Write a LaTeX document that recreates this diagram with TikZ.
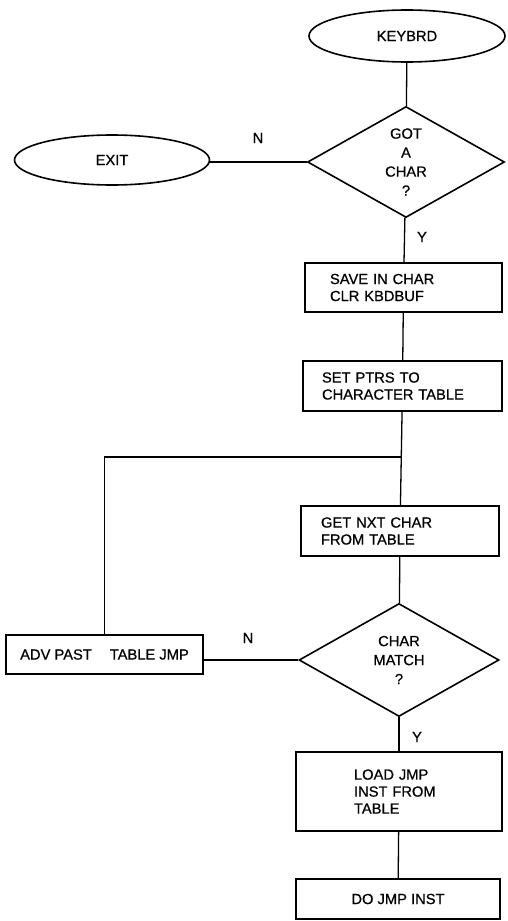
\documentclass[tikz,border=0pt]{standalone}
\usepackage{fontspec}
\newfontfamily\flowfont[FakeBold=0.7]{Liberation Sans}
\usetikzlibrary{shapes.geometric,calc}
\newcommand{\flowtxt}{\flowfont\fontsize{14.7}{17}\selectfont}
\newcommand{\testtxt}{\flowfont\fontsize{14.7}{19}\selectfont}
\tikzset{
  term/.style={ellipse,draw=black,line width=1.6pt,minimum width=196pt,minimum height=52pt,inner sep=0pt,font=\flowtxt},
  test/.style={diamond,aspect=1.8,draw=black,line width=1.6pt,minimum width=197pt,minimum height=111pt,inner sep=0pt,align=center,font=\testtxt},
  proc/.style={rectangle,draw=black,line width=1.6pt,inner ysep=0pt,align=left,font=\flowtxt},
  wire/.style={draw=black,line width=1.3pt},
  tag/.style={font=\flowtxt}
}

\begin{document}
\begin{tikzpicture}[x=1pt,y=-1pt]
\useasboundingbox (0,0) rectangle (507,921);
% main column
\node[term] (keybrd) at (407,36) {KEYBRD};
\node[test] (gotch) at (406,162) {GOT\\A\\CHAR\\?};
\node[term,minimum width=195pt,minimum height=50pt] (exit) at (112,160) {EXIT};
\node[proc,minimum width=197pt,minimum height=49pt,inner xsep=25pt,text width=147pt] (save) at (403.5,287.5) {SAVE IN CHAR\\CLR KBDBUF};
\node[proc,minimum width=199pt,minimum height=50pt,inner xsep=19pt,text width=161pt] (setp) at (402.5,386) {SET PTRS TO\\CHARACTER TABLE};
\node[proc,minimum width=198pt,minimum height=50pt,inner xsep=20pt,text width=158pt] (getn) at (400,531) {GET NXT CHAR\\FROM TABLE};
\node[test,minimum width=200pt,minimum height=113pt] (match) at (399,660) {CHAR\\MATCH\\?};
\node[proc,align=center,minimum width=197pt,minimum height=39pt] (adv) at (104.5,654.5) {ADV PAST\hspace{18pt}TABLE JMP};
\node[proc,minimum width=206pt,minimum height=79pt,inner xsep=58pt,text width=90pt] (load) at (399,791.5) {LOAD JMP\\INST FROM\\TABLE};
\node[proc,align=center,minimum width=204pt,minimum height=40pt] (dojmp) at (398,899) {DO JMP INST};
\coordinate (loop) at (401,457);

% connectors
\draw[wire] (keybrd) -- (gotch);
\draw[wire] (gotch.west) -- (gotch.west -| exit.east);
\draw[wire] (gotch) -- (save);
\draw[wire] (save) -- (setp);
\draw[wire] (setp) -- (getn);
\draw[wire] (adv.north) |- (loop);
\draw[wire] (getn) -- (match);
\draw[wire] (match.west) -- (match.west -| adv.east);
\draw[wire] (match) -- (load);
\draw[wire] (load) -- (dojmp);

% branch labels
\node[tag] (gotn) at (258,138) {N};
\node[tag] (goty) at (422,237) {Y};
\node[tag] (matchn) at (248,638) {N};
\node[tag] (matchy) at (417,737) {Y};
\end{tikzpicture}
\end{document}
